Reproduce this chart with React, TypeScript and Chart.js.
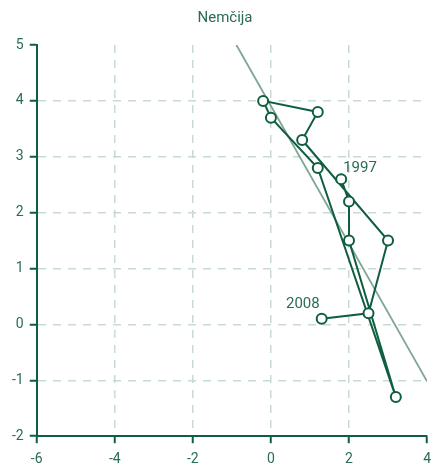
import React, { useEffect, useRef } from "react";
import { Chart, registerables } from "chart.js";

Chart.register(...registerables);

// Data: Nemčija, 1997–2008
const years = ["1997", "1998", "1999", "2000", "2001", "2002", "2003", "2004", "2005", "2006", "2007", "2008"];
const xValues = [1.8, 2.0, 2.0, 3.2, 1.2, 0.0, -0.2, 1.2, 0.8, 3.0, 2.5, 1.3];
const yValues = [2.6, 2.2, 1.5, -1.3, 2.8, 3.7, 4.0, 3.8, 3.3, 1.5, 0.2, 0.1];
const labelledYears = ["1997", "2008"];

// regression line y = a + b x
const regIntercept = 3.91;
const regSlope = -1.232;

const xTicks = [-6, -4, -2, 0, 2, 4];
const yTicks = [-2, -1, 0, 1, 2, 3, 4, 5];
const title = "Nemčija";

const DARK = "#0f5e3f";
const TEXT = "#2b6c52";
const REG = "#7ca592";
const GRID = "#c9dad2";
const FONT = "Roboto, 'Liberation Sans', sans-serif";

export default function App() {
  const ref = useRef<HTMLCanvasElement | null>(null);

  useEffect(() => {
    const canvas = ref.current;
    if (!canvas) return;
    const xMin = xTicks[0];
    const xMax = xTicks[xTicks.length - 1];
    const yMin = yTicks[0];
    const yMax = yTicks[yTicks.length - 1];

    const pts = xValues.map((x, i) => ({ x, y: yValues[i] }));
    const xAtTop = (yMax - regIntercept) / regSlope;
    const regPts = [
      { x: xAtTop, y: yMax },
      { x: xMax, y: regIntercept + regSlope * xMax },
    ];

    const titlePlugin = {
      id: "titleDraw",
      afterDraw(chart: any) {
        const ctx = chart.ctx;
        ctx.save();
        ctx.fillStyle = TEXT;
        ctx.font = "15px " + FONT;
        ctx.textAlign = "center";
        ctx.textBaseline = "middle";
        ctx.fillText(title, 225, 18);
        ctx.restore();
      },
    };

    const yearPlugin = {
      id: "yearLabels",
      afterDatasetsDraw(chart: any) {
        const ctx = chart.ctx;
        const xs = chart.scales.x;
        const ys = chart.scales.y;
        ctx.save();
        ctx.fillStyle = TEXT;
        ctx.font = "15px " + FONT;
        ctx.textBaseline = "bottom";
        labelledYears.forEach((yr, k) => {
          const i = years.indexOf(yr);
          const px = xs.getPixelForValue(xValues[i]);
          const py = ys.getPixelForValue(yValues[i]);
          if (k === 0) {
            ctx.textAlign = "left";
            ctx.fillText(yr, px + 2, py - 3);
          } else {
            ctx.textAlign = "right";
            ctx.fillText(yr, px - 2, py - 7);
          }
        });
        ctx.restore();
      },
    };

    const chart = new Chart(canvas, {
      type: "scatter",
      data: {
        datasets: [
          {
            label: "path",
            data: pts,
            showLine: true,
            borderColor: DARK,
            borderWidth: 2,
            pointRadius: 5,
            pointBorderWidth: 2,
            pointBackgroundColor: "#ffffff",
            pointBorderColor: DARK,
            order: 1,
            clip: false as any,
          },
          {
            label: "reg",
            data: regPts,
            showLine: true,
            borderColor: REG,
            borderWidth: 1.8,
            pointRadius: 0,
            order: 2,
          },
        ],
      },
      plugins: [titlePlugin, yearPlugin],
      options: {
        responsive: false,
        animation: false,
        devicePixelRatio: 1,
        layout: { padding: { top: 45, left: 6, right: 0, bottom: 0 } },
        plugins: {
          legend: { display: false },
          tooltip: { enabled: false },
          title: { display: false },
        },
        scales: {
          x: {
            type: "linear",
            min: xMin,
            max: xMax,
            afterBuildTicks: (s: any) => {
              s.ticks = xTicks.map((v) => ({ value: v }));
            },
            ticks: {
              color: TEXT,
              font: { family: FONT, size: 14 },
              padding: 8,
              maxRotation: 0,
            },
            grid: {
              color: (c: any) =>
                c.tick && (c.tick.value === xMin || c.tick.value === xMax) ? "rgba(0,0,0,0)" : GRID,
              lineWidth: 1.5,
              drawTicks: true,
              tickLength: 7,
              tickColor: DARK,
              tickWidth: 2,
            },
            border: { display: true, color: DARK, width: 2, dash: [8, 7] },
          },
          y: {
            type: "linear",
            min: yMin,
            max: yMax,
            afterBuildTicks: (s: any) => {
              s.ticks = yTicks.map((v) => ({ value: v }));
            },
            ticks: {
              color: TEXT,
              font: { family: FONT, size: 14 },
              padding: 6,
            },
            grid: {
              color: (c: any) =>
                c.tick && (c.tick.value === yMin || c.tick.value === yMax) ? "rgba(0,0,0,0)" : GRID,
              lineWidth: 1.5,
              drawTicks: true,
              tickLength: 7,
              tickColor: DARK,
              tickWidth: 2,
            },
            border: { display: true, color: DARK, width: 2, dash: [8, 7] },
          },
        },
      },
    });
    return () => chart.destroy();
  }, []);

  return (
    <div style={{ position: "fixed", left: 0, top: 0, width: 431, height: 465, overflow: "hidden" }}>
      <canvas ref={ref} width={439} height={476} style={{ display: "block" }} />
    </div>
  );
}
